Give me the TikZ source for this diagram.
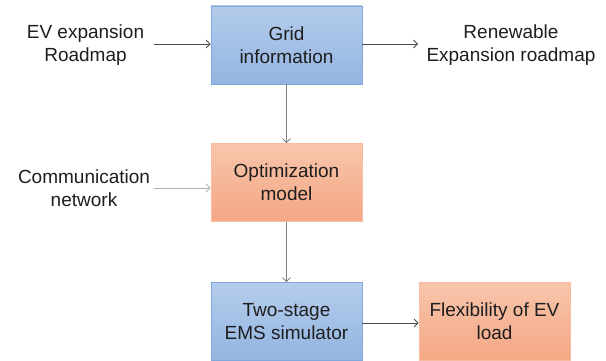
\documentclass[tikz,border=0pt]{standalone}
\usepackage{fontspec}
\setmainfont{Liberation Sans}
\usetikzlibrary{arrows.meta,shapes}
\newcommand{\boxw}{151pt}
\newcommand{\boxh}{78pt}
\definecolor{bluetop}{HTML}{B4CCEB}
\definecolor{bluebot}{HTML}{93B5E1}
\definecolor{blueline}{HTML}{80A8DA}
\definecolor{orangetop}{HTML}{F7C5AB}
\definecolor{orangebot}{HTML}{F5A784}
\definecolor{orangeline}{HTML}{F8BCA0}
\definecolor{txtgray}{HTML}{1E1E1E}

\begin{document}
\begin{tikzpicture}[x=1pt,y=-1pt]
    \tikzset{BoxStyle/.style = {rectangle, minimum width=\boxw, minimum height=\boxh, inner sep=0pt, align=center, line width=0.8pt, text=txtgray, font=\fontsize{19}{23}\selectfont}}
    \tikzset{BlueBox/.style = {BoxStyle, draw=blueline, top color=bluetop, bottom color=bluebot}}
    \tikzset{OrangeBox/.style = {BoxStyle, draw=orangeline, top color=orangetop, bottom color=orangebot}}
    \tikzset{LabelStyle/.style = {align=center, inner sep=0pt, text=txtgray, font=\fontsize{19}{23}\selectfont}}
    \tikzset{EdgeStyle/.style = {-{Straight Barb[length=4pt,width=8pt]}, line width=0.8pt, draw=#1}}
    \useasboundingbox (0,0) rectangle (606,361);
    % boxes
    \node[BlueBox] (grid) at (286.5,45) {Grid\\information};
    \node[OrangeBox] (opt) at (286.5,182.5) {Optimization\\model};
    \node[BlueBox] (sim) at (286.5,321.5) {Two-stage\\EMS simulator};
    \node[OrangeBox] (flex) at (494.5,321.5) {Flexibility of EV\\load};
    % outside texts
    \node[LabelStyle] (ev) at (85.5,45) {EV expansion\\Roadmap};
    \node[LabelStyle] (ren) at (511,45) {Renewable\\Expansion roadmap};
    \node[LabelStyle] (comm) at (84,188.5) {Communication\\network};
    \coordinate (evtail) at (154,44);
    \coordinate (renhead) at (418,44);
    \coordinate (commtail) at (154,188);
    % connectors
    \draw[EdgeStyle=black!70] (evtail) -- (evtail -| grid.west);
    \draw[EdgeStyle=black!70] (renhead -| grid.east) -- (renhead);
    \draw[EdgeStyle=black!30] (commtail) -- (commtail -| opt.west);
    \draw[EdgeStyle=black!50] (grid.south) -- (opt.north);
    \draw[EdgeStyle=black!50] (opt.south) -- (sim.north);
    \draw[EdgeStyle=black!70] ([yshift=-1.5pt]sim.east) -- ([yshift=-1.5pt]flex.west);
\end{tikzpicture}
\end{document}
